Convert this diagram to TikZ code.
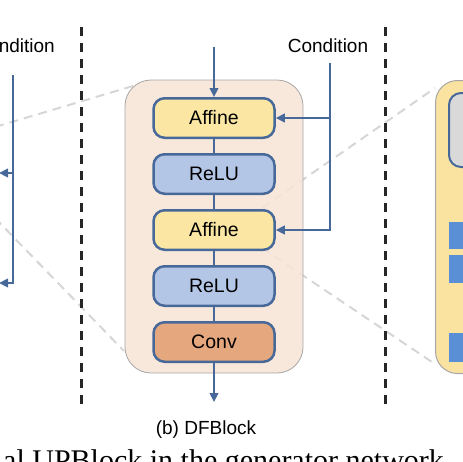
\documentclass[tikz,border=0pt]{standalone}
\usepackage{fontspec}
\setmainfont{Liberation Serif}
\setsansfont{Liberation Sans}
\usetikzlibrary{arrows.meta, shapes, positioning}

\definecolor{linkblue}{HTML}{47699A}
\definecolor{affinefill}{HTML}{FBE7A3}
\definecolor{relufill}{HTML}{B4C6E6}
\definecolor{convfill}{HTML}{E5A77D}
\definecolor{blockfill}{HTML}{F7E4D6}
\definecolor{panelfill}{HTML}{FAE3A1}
\definecolor{sqfill}{HTML}{5B8FD5}

\begin{document}
\begin{tikzpicture}[x=1pt, y=-1pt, node distance = 56pt, >={Triangle[length=9pt,width=8.5pt]}]
\tikzstyle{op}=[rectangle, rounded corners=11pt, draw=linkblue, line width=2.5pt, minimum width=121pt, minimum height=39.5pt, font=\sffamily\fontsize{19.5}{21}\selectfont]
\tikzstyle{affine}=[op, fill=affinefill]
\tikzstyle{relu}=[op, fill=relufill]
\tikzstyle{conv}=[op, fill=convfill]
\tikzstyle{flow}=[draw=linkblue, line width=2.2pt]
\tikzstyle{sep}=[draw=black!85, line width=3pt, dash pattern=on 9pt off 7pt]
\tikzstyle{zoomline}=[draw=black!16, line width=2pt, dash pattern=on 9pt off 6pt]
\tikzstyle{lbl}=[font=\sffamily\fontsize{19}{21}\selectfont, inner sep=0pt]
%
\useasboundingbox (0,0) rectangle (463,461);

% zoom lines (behind the blocks)
\coordinate (zl1) at (-5,127);
\coordinate (zl2) at (-5,218);
\coordinate (za) at (133,86);
\coordinate (zb) at (124,351);
\coordinate (zr1) at (262,208);
\coordinate (zr2) at (262,248);
\coordinate (zc) at (435,88);
\coordinate (zd) at (435,364);
\draw [zoomline] (zl1) -- (za);
\draw [zoomline] (zl2) -- (zb);
\draw [zoomline] (zr1) -- (zc);
\draw [zoomline] (zr2) -- (zd);

% separators
\coordinate (sepLt) at (81,27);
\coordinate (sepLb) at (81,407);
\coordinate (sepRt) at (385,27);
\coordinate (sepRb) at (385,407);
\draw [sep] (sepLt) -- (sepLb);
\draw [sep] (sepRt) -- (sepRb);

% (b) DFBlock
\node [rectangle, rounded corners=26pt, fill=blockfill, fill opacity=0.85, draw=black!35, line width=0.8pt, minimum width=178pt, minimum height=293pt] (dfblock) at (214,226.5) {};

\node [affine] (aff1) at (214,118) {Affine};
\node [relu] (relu1) [below of=aff1] {ReLU}
	edge [flow] (aff1);
\node [affine] (aff2) [below of=relu1] {Affine}
	edge [flow] (relu1);
\node [relu] (relu2) [below of=aff2] {ReLU}
	edge [flow] (aff2);
\node [conv] (conv) [below of=relu2] {Conv}
	edge [flow] (relu2);

\coordinate (in) at (214,47);
\coordinate (out) at (214,402);
\draw [flow, ->] (in) -- (aff1);
\draw [flow, ->] (conv) -- (out);

\node [lbl, anchor=base] (caption) at (206,434) {(b) DFBlock};

% condition, right
\node [lbl, anchor=base] (condR) at (328,52) {Condition};
\coordinate (cR) at (330,63);
\draw [flow, ->] (cR) |- (aff2.east);
\draw [flow, ->] (aff1.east -| cR) -- (aff1.east);

% condition, left
\node [lbl, anchor=base east] (condL) at (55,52) {Condition};
\coordinate (cL) at (13,75);
\coordinate (lA) at (-1,173);
\coordinate (lB) at (-1,283);
\draw [flow, ->] (cL) |- (lB);
\draw [flow, ->] (lA -| cL) -- (lA);

% (c), right edge
\node [rectangle, rounded corners=22pt, fill=panelfill, draw=black!35, line width=1pt, minimum width=130pt, minimum height=293pt, anchor=north west] (panel) at (435,80) {};
\node [rectangle, rounded corners=12pt, fill=black!15, draw=linkblue, line width=2pt, minimum width=100pt, minimum height=74pt, anchor=north west] (grey) at (448,92) {};
\node [rectangle, fill=sqfill, minimum width=40pt, minimum height=27pt, anchor=north west] (sq1) at (449,222) {};
\node [rectangle, fill=sqfill, minimum width=40pt, minimum height=28pt, anchor=north west] (sq2) at (449,255) {};
\node [rectangle, fill=sqfill, minimum width=40pt, minimum height=29pt, anchor=north west] (sq3) at (449,333) {};

% caption text, cut
\node [anchor=base west, inner sep=0pt, font=\fontsize{30}{32}\selectfont] (figcap) at (3,470) {al UPBlock in the generator network};

\end{tikzpicture}
\end{document}
